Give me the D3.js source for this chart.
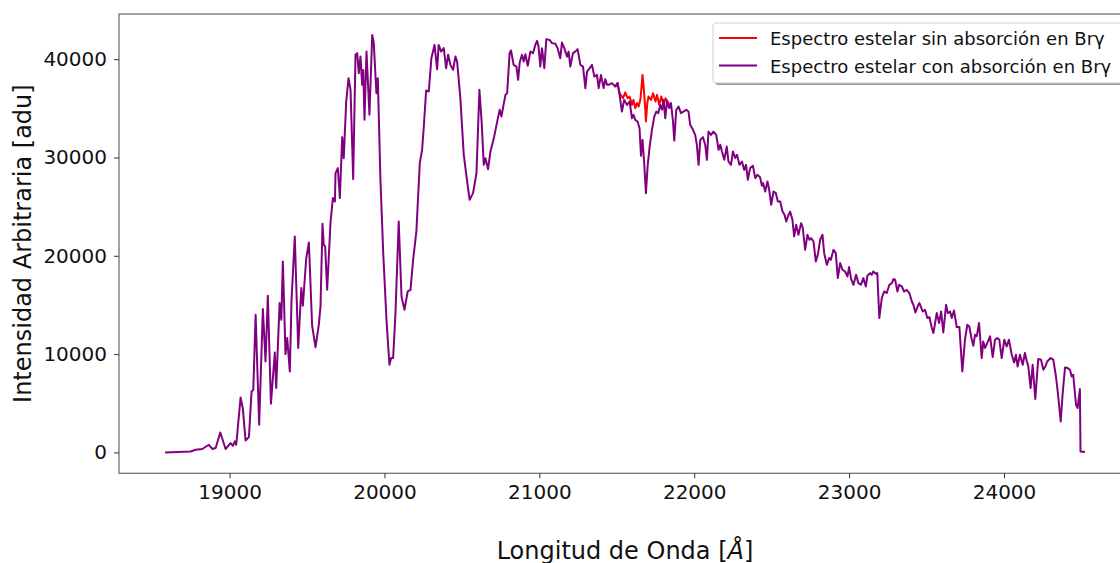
<!DOCTYPE html>
<html>
<head>
<meta charset="utf-8">
<script src="https://cdn.jsdelivr.net/npm/d3@7"></script>
<style>
  body { margin: 0; background: #fff; }
  svg { display: block; font-family: "DejaVu Sans", sans-serif; }
</style>
</head>
<body>
<svg id="canvas" width="1120" height="563"></svg>
<script>
// espectro con absorcion (purpura), leido a ojo de la figura
var wavelengths = [
  18583, 18748, 18781, 18824, 18866, 18888, 18910, 18940, 18974, 19006, 19021, 19034, 19043, 19071, 19086, 19103,
  19125, 19142, 19153, 19168, 19191, 19215, 19232, 19247, 19267, 19292, 19301, 19323, 19334, 19344, 19361, 19372,
  19389, 19400, 19421, 19443, 19463, 19473, 19495, 19512, 19533, 19555, 19576, 19587, 19600, 19608, 19617, 19630,
  19652, 19667, 19680, 19684, 19699, 19712, 19727, 19737, 19753, 19768, 19781, 19798, 19813, 19824, 19834, 19845,
  19856, 19863, 19871, 19884, 19903, 19921, 19931, 19948, 19957, 19974, 19992, 20013, 20032, 20043, 20056, 20071,
  20092, 20110, 20129, 20150, 20168, 20185, 20206, 20228, 20243, 20254, 20269, 20286, 20303, 20323, 20340, 20350,
  20366, 20383, 20398, 20411, 20426, 20443, 20458, 20469, 20490, 20512, 20534, 20550, 20572, 20594, 20613, 20628,
  20641, 20652, 20669, 20684, 20705, 20731, 20744, 20755, 20781, 20792, 20808, 20817, 20834, 20852, 20863, 20873,
  20888, 20899, 20910, 20925, 20942, 20959, 20974, 20985, 20995, 21006, 21017, 21032, 21045, 21066, 21082, 21103,
  21118, 21135, 21146, 21161, 21179, 21189, 21200, 21217, 21232, 21247, 21265, 21282, 21297, 21308, 21325, 21340,
  21355, 21372, 21383, 21398, 21415, 21426, 21437, 21447, 21469, 21490, 21505, 21518, 21533, 21548, 21566, 21583,
  21598, 21608, 21619, 21634, 21647, 21656, 21666, 21677, 21688, 21699, 21712, 21727, 21742, 21755, 21768, 21781,
  21792, 21802, 21813, 21824, 21839, 21850, 21863, 21871, 21884, 21899, 21914, 21930, 21948, 21963, 21974, 21992,
  22006, 22017, 22028, 22039, 22056, 22071, 22082, 22092, 22108, 22124, 22142, 22157, 22168, 22179, 22194, 22210,
  22221, 22237, 22250, 22265, 22276, 22292, 22308, 22323, 22335, 22346, 22361, 22379, 22394, 22408, 22425, 22437,
  22445, 22458, 22473, 22484, 22497, 22512, 22527, 22540, 22555, 22570, 22583, 22594, 22605, 22619, 22634, 22645,
  22658, 22673, 22690, 22701, 22716, 22731, 22744, 22755, 22770, 22785, 22798, 22813, 22828, 22839, 22856, 22871,
  22882, 22899, 22914, 22927, 22942, 22957, 22974, 22989, 23000, 23013, 23028, 23045, 23060, 23076, 23092, 23108,
  23118, 23135, 23146, 23156, 23172, 23182, 23195, 23211, 23226, 23243, 23260, 23276, 23286, 23297, 23312, 23323,
  23340, 23355, 23372, 23389, 23405, 23415, 23428, 23447, 23454, 23475, 23490, 23505, 23518, 23534, 23544, 23566,
  23581, 23594, 23608, 23626, 23637, 23652, 23663, 23677, 23695, 23712, 23731, 23748, 23763, 23776, 23792, 23802,
  23813, 23824, 23839, 23856, 23866, 23877, 23892, 23910, 23927, 23942, 23957, 23970, 23985, 24002, 24017, 24032,
  24050, 24065, 24077, 24088, 24103, 24121, 24135, 24146, 24157, 24172, 24185, 24202, 24221, 24239, 24254, 24267,
  24279, 24301, 24318, 24334, 24348, 24366, 24379, 24394, 24411, 24426, 24437, 24447, 24465, 24475, 24490, 24494,
  24523
];
var fluxAbsorbed = [
  0, 100, 270, 350, 780, 350, 450, 2030, 350, 950, 680, 1120, 780, 5590, 4410, 1220,
  1570, 6200, 6380, 14000, 2820, 14580, 9250, 15930, 4950, 10170, 6550, 15190, 13490, 19420, 10000, 11630,
  8240, 15530, 21960, 10620, 16720, 14920, 19770, 21350, 12880, 10700, 12980, 14850, 23250, 21120, 20950, 16540,
  23490, 25870, 25520, 28410, 28920, 25870, 32070, 29930, 35690, 38070, 36880, 27800, 40440, 40610, 38580, 40260,
  37390, 38910, 33830, 40770, 34340, 42470, 41630, 36540, 38070, 27730, 20270, 13490, 8920, 9600, 9600, 14170,
  23490, 15860, 14510, 16370, 16540, 19590, 22470, 29430, 30780, 33150, 36810, 36710, 40100, 41450, 38980, 41450,
  40770, 41120, 39080, 40440, 39420, 38910, 40260, 39760, 36030, 30270, 27550, 25690, 26370, 28410, 36880, 33490,
  29250, 29930, 28810, 30600, 31870, 33900, 34850, 34160, 36370, 36540, 40610, 40880, 39420, 39250, 37900, 39660,
  40440, 39760, 40510, 39320, 40770, 40610, 41450, 41860, 41280, 39250, 41120, 39080, 42030, 41960, 41630, 41560,
  41120, 40100, 41690, 41120, 40260, 40770, 39250, 40610, 40770, 41020, 39420, 39250, 37050, 38740, 39080, 39420,
  38230, 38400, 37050, 38400, 37050, 37960, 37390, 37390, 37560, 37210, 37560, 36370, 34670, 35860, 35350, 35690,
  34000, 34340, 33830, 33660, 32980, 30170, 31790, 29420, 26370, 29080, 31110, 32810, 34160, 34670, 34510, 35350,
  34850, 35860, 34000, 35690, 35020, 35530, 33660, 31720, 34850, 35180, 34510, 34670, 34850, 34670, 33320, 32810,
  32300, 31290, 29250, 31790, 32070, 31290, 29760, 32640, 32300, 32640, 32300, 30780, 31290, 30600, 29760, 31110,
  29590, 29250, 30600, 29930, 30270, 29250, 29590, 28740, 29250, 27730, 28920, 29150, 27900, 28240, 28000, 27120,
  27390, 26540, 27560, 26710, 25190, 26540, 26370, 25520, 25520, 24500, 24170, 23490, 24000, 24500, 23660, 21960,
  23150, 22140, 23320, 22810, 20610, 22140, 21630, 21800, 21450, 19420, 20100, 21630, 22140, 20270, 19080, 19770,
  19590, 20610, 20270, 17730, 19260, 18580, 18400, 17900, 18850, 17630, 17050, 18070, 17220, 17050, 17730, 16880,
  17970, 18240, 18070, 18400, 18170, 18240, 13670, 15700, 16370, 16210, 17050, 17220, 17630, 17560, 16370, 17050,
  16880, 16370, 16540, 16210, 15350, 15020, 14240, 15020, 15190, 14340, 14510, 13670, 13770, 12650, 12140, 14170,
  13160, 14340, 12200, 15020, 14170, 14340, 13670, 14440, 12750, 12750, 8240, 11460, 12980, 12810, 11460, 10850,
  11970, 11800, 13160, 9600, 11290, 10620, 11120, 11800, 9700, 11460, 11630, 11460, 9600, 11460, 10780, 11460,
  9930, 9150, 9930, 8740, 9930, 8920, 10110, 9350, 8740, 6550, 8920, 5430, 9500, 9430, 8410, 8740,
  9250, 9600, 9430, 7900, 6040, 3150, 6040, 8640, 8580, 8410, 7730, 7900, 4850, 4510, 6450, 100,
  40
];

// espectro sin absorcion (rojo), solo donde se separa del otro
var wavelengthsBrg = [
  21490, 21505, 21518, 21540, 21555, 21570, 21583, 21598, 21608, 21619, 21630, 21641, 21652, 21660, 21666, 21675,
  21682, 21688, 21697, 21705, 21721, 21734, 21750, 21760, 21774, 21787, 21802, 21815, 21828, 21839, 21850
];
var fluxClean = [
  37210, 37560, 36540, 36030, 36610, 36030, 36200, 35350, 35860, 35020, 35530, 35180, 35860, 37210, 38400, 36880,
  35350, 33660, 35530, 36200, 35860, 36540, 35690, 36370, 35350, 36200, 35350, 36030, 35690, 35350, 35530
];

var xTicks = [19000, 20000, 21000, 22000, 23000, 24000];
var yTicks = [0, 10000, 20000, 30000, 40000];
var seriesNames = ["Espectro estelar sin absorción en Brγ", "Espectro estelar con absorción en Brγ"];
var seriesColors = ["red", "purple"];

var svg = d3.select("#canvas");
var plotLeft = 119, plotTop = 14, plotRight = 1131, plotBottom = 473.3;

// margenes del 5% como matplotlib
var xMin = d3.min(wavelengths), xMax = d3.max(wavelengths);
var yMin = d3.min(fluxAbsorbed), yMax = d3.max(fluxAbsorbed);
var xPad = (xMax - xMin) * 0.05, yPad = (yMax - yMin) * 0.05;

var x = d3.scaleLinear().domain([xMin - xPad, xMax + xPad]).range([plotLeft, plotRight]);
var y = d3.scaleLinear().domain([yMin - yPad, yMax + yPad]).range([plotBottom, plotTop]);

var line = d3.line()
  .x(function (d) { return x(d[0]); })
  .y(function (d) { return y(d[1]); });

var plot = svg.append("g");

plot.append("path")
  .datum(d3.zip(wavelengthsBrg, fluxClean))
  .attr("d", line)
  .attr("fill", "none")
  .attr("stroke", seriesColors[0])
  .attr("stroke-width", 2)
  .attr("stroke-linejoin", "round");

plot.append("path")
  .datum(d3.zip(wavelengths, fluxAbsorbed))
  .attr("d", line)
  .attr("fill", "none")
  .attr("stroke", seriesColors[1])
  .attr("stroke-width", 2)
  .attr("stroke-linejoin", "round");

// marco
svg.append("rect")
  .attr("x", plotLeft).attr("y", plotTop)
  .attr("width", plotRight - plotLeft).attr("height", plotBottom - plotTop)
  .attr("fill", "none").attr("stroke", "#707070").attr("stroke-width", 1.3);

var xAxis = svg.append("g")
  .attr("transform", "translate(0," + plotBottom + ")")
  .call(d3.axisBottom(x).tickValues(xTicks).tickFormat(d3.format("d")).tickSize(5).tickPadding(7));
var yAxis = svg.append("g")
  .attr("transform", "translate(" + plotLeft + ",0)")
  .call(d3.axisLeft(y).tickValues(yTicks).tickFormat(d3.format("d")).tickSize(5).tickPadding(7));

[xAxis, yAxis].forEach(function (ax) {
  ax.select(".domain").remove();
  ax.selectAll(".tick line").attr("stroke", "#333");
  ax.selectAll(".tick text")
    .attr("fill", "#111")
    .style("font-family", "DejaVu Sans")
    .style("font-size", "20px");
});

var xLabel = svg.append("text")
  .attr("x", (plotLeft + plotRight) / 2).attr("y", 559)
  .attr("text-anchor", "middle")
  .attr("fill", "#111")
  .style("font-size", "24px")
  .text("Longitud de Onda [");
xLabel.append("tspan").style("font-style", "italic").text("Å");
xLabel.append("tspan").text("]");

svg.append("text")
  .attr("transform", "translate(31," + (plotTop + plotBottom) / 2 + ") rotate(-90)")
  .attr("text-anchor", "middle")
  .attr("fill", "#111")
  .style("font-size", "24px")
  .text("Intensidad Arbitraria [adu]");

// leyenda con sombra
var legend = svg.append("g").attr("transform", "translate(713,23)");
legend.append("rect")
  .attr("x", 2).attr("y", 2).attr("width", 411).attr("height", 60).attr("rx", 3)
  .attr("fill", "#999");
legend.append("rect")
  .attr("width", 411).attr("height", 60).attr("rx", 3)
  .attr("fill", "#fff").attr("stroke", "#d0d0d0");

seriesNames.forEach(function (name, i) {
  var row = legend.append("g").attr("transform", "translate(0," + (15 + i * 27.5) + ")");
  row.append("line")
    .attr("x1", 6).attr("x2", 44)
    .attr("stroke", seriesColors[i]).attr("stroke-width", 2);
  row.append("text")
    .attr("x", 57).attr("y", 7)
    .attr("fill", "#111")
    .style("font-size", "18px")
    .text(name);
});
</script>
</body>
</html>
